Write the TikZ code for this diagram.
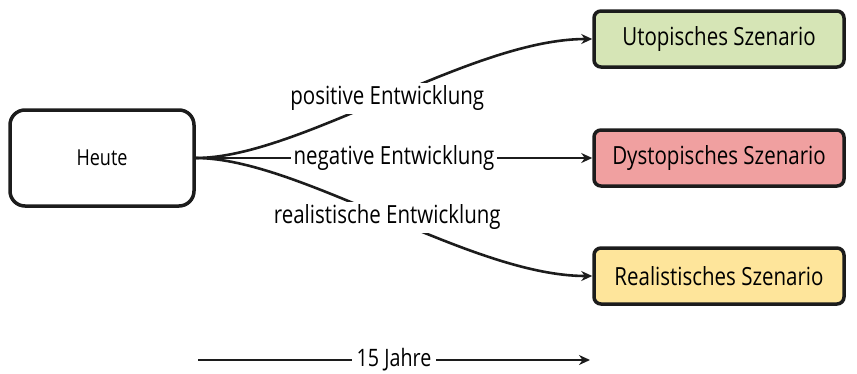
\documentclass[tikz,border=0pt]{standalone}
\usepackage{fontspec}
\setmainfont[FakeStretch=0.82]{Open Sans}
\usetikzlibrary{arrows.meta,positioning}

\definecolor{rahmen}{RGB}{28,28,28}
\definecolor{utopgruen}{RGB}{214,229,182}
\definecolor{dystorot}{RGB}{240,160,160}
\definecolor{realgelb}{RGB}{254,229,155}

\tikzset{
  heutebox/.style={draw=rahmen, line width=3.5pt, rounded corners=15pt,
    minimum width=184pt, minimum height=96pt, font=\fontsize{22}{26}\selectfont},
  szenario/.style={draw=rahmen, line width=3.5pt, rounded corners=7pt,
    minimum width=250pt, minimum height=56pt, font=\fontsize{25}{30}\selectfont},
  verlauf/.style={draw=rahmen, line width=2.6pt, -{Stealth[length=11pt,width=10pt]}},
  beschr/.style={fill=white, inner sep=3pt, font=\fontsize{25}{30}\selectfont}
}

\begin{document}
\begin{tikzpicture}[x=1pt,y=-1pt]
\useasboundingbox (0,0) rectangle (857,373);

% Ausgangslage und Szenarien
\node[heutebox] (heute) at (102,158) {Heute};
\node[szenario, fill=utopgruen] (utop) at (719,39) {Utopisches Szenario};
\node[szenario, fill=dystorot] (dysto) at (719,158) {Dystopisches Szenario};
\node[szenario, fill=realgelb] (real) at (719,276) {Realistisches Szenario};

% Entwicklungen
\draw[verlauf] (heute.east) .. controls +(104,0) and +(-122,0) .. (utop.west)
  node[beschr, pos=0.5] {positive Entwicklung};
\draw[verlauf] (heute.east) -- (dysto.west)
  node[beschr, midway] {negative Entwicklung};
\draw[verlauf] (heute.east) .. controls +(104,0) and +(-122,0) .. (real.west)
  node[beschr, pos=0.5] {realistische Entwicklung};

% Zeitachse
\coordinate (zeitA) at (198,360);
\coordinate (zeitB) at (590,360);
\draw[verlauf] (zeitA) -- (zeitB)
  node[beschr, midway, inner sep=5pt, font=\fontsize{24}{28}\selectfont] {15 Jahre};

\end{tikzpicture}
\end{document}
